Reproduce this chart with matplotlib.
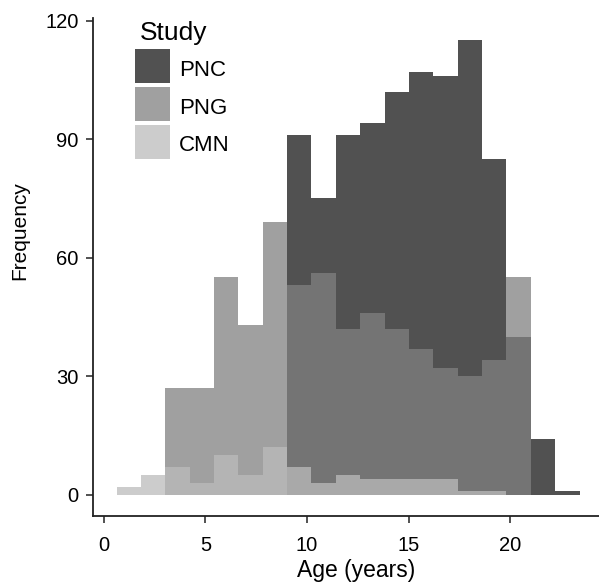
import numpy as np
import matplotlib
matplotlib.use("Agg")
import matplotlib.pyplot as plt
from matplotlib.patches import Rectangle

plt.rcParams['font.family'] = ['Liberation Sans', 'DejaVu Sans']

# Histogram bins (19 bins of ~1.2 years)
bin_start = 0.62
bin_width = 1.2
n_bins = 19

studies = ["PNC", "PNG", "CMN"]
pnc_counts = [0, 0, 0, 0, 0, 0, 0, 91, 75, 91, 94, 102, 107, 106, 115, 85, 40, 14, 1]
png_counts = [0, 0, 27, 27, 55, 43, 69, 53, 56, 42, 46, 42, 37, 32, 30, 34, 55, 0, 0]
cmn_counts = [2, 5, 7, 3, 10, 5, 12, 7, 3, 5, 4, 4, 4, 4, 1, 1, 0, 0, 0]
colors = ["#171717", "#808080", "#bbbbbb"]
alpha = 0.75

x_ticks = [0, 5, 10, 15, 20]
y_ticks = [0, 30, 60, 90, 120]

W, H = 599, 583
fig = plt.figure(figsize=(W / 100, H / 100), dpi=100)


def fx(px):
    return px / W


def fy(py):
    return 1 - py / H


ax = fig.add_axes([fx(93), fy(515.7), (W - 93) / W, (515.7 - 17.7) / H])

lefts = bin_start + bin_width * np.arange(n_bins)
for counts, col in zip([pnc_counts, png_counts, cmn_counts], colors):
    ax.bar(lefts, counts, width=bin_width, align='edge', color=col, alpha=alpha,
           linewidth=0)

ax.set_xlim(-0.54, 24.38)
ax.set_ylim(-5.32, 120.75)
ax.set_xticks(x_ticks)
ax.set_yticks(y_ticks)
for s in ['top', 'right']:
    ax.spines[s].set_visible(False)
for s in ['left', 'bottom']:
    ax.spines[s].set_linewidth(1.3)
    ax.spines[s].set_color('#222222')
ax.tick_params(axis='both', direction='out', length=5.2, width=1.1, color='#222222',
               labelsize=14.5)
ax.tick_params(axis='y', pad=5)
ax.tick_params(axis='x', pad=9.5)
ax.set_xlabel("Age (years)", fontsize=16.5, va='top')
ax.xaxis.set_label_coords(fx(356), fy(559), transform=fig.transFigure)
ax.set_ylabel("Frequency", fontsize=15, va='center')
ax.yaxis.set_label_coords(fx(20), fy(231), transform=fig.transFigure)

# Legend (drawn manually to match key sizes)
fig.text(fx(140), fy(40), "Study", fontsize=19, va='baseline', ha='left')
key_tops = [49.3, 87.3, 125.0]
for lab, col, top in zip(studies, colors, key_tops):
    fig.add_artist(Rectangle((fx(135), fy(top + 34)), 35 / W, 34 / H,
                             transform=fig.transFigure, facecolor=col,
                             alpha=alpha, linewidth=0))
    fig.text(fx(179), fy(top + 26.3), lab, fontsize=16, va='baseline', ha='left')

fig.savefig("out.png", dpi=100)
